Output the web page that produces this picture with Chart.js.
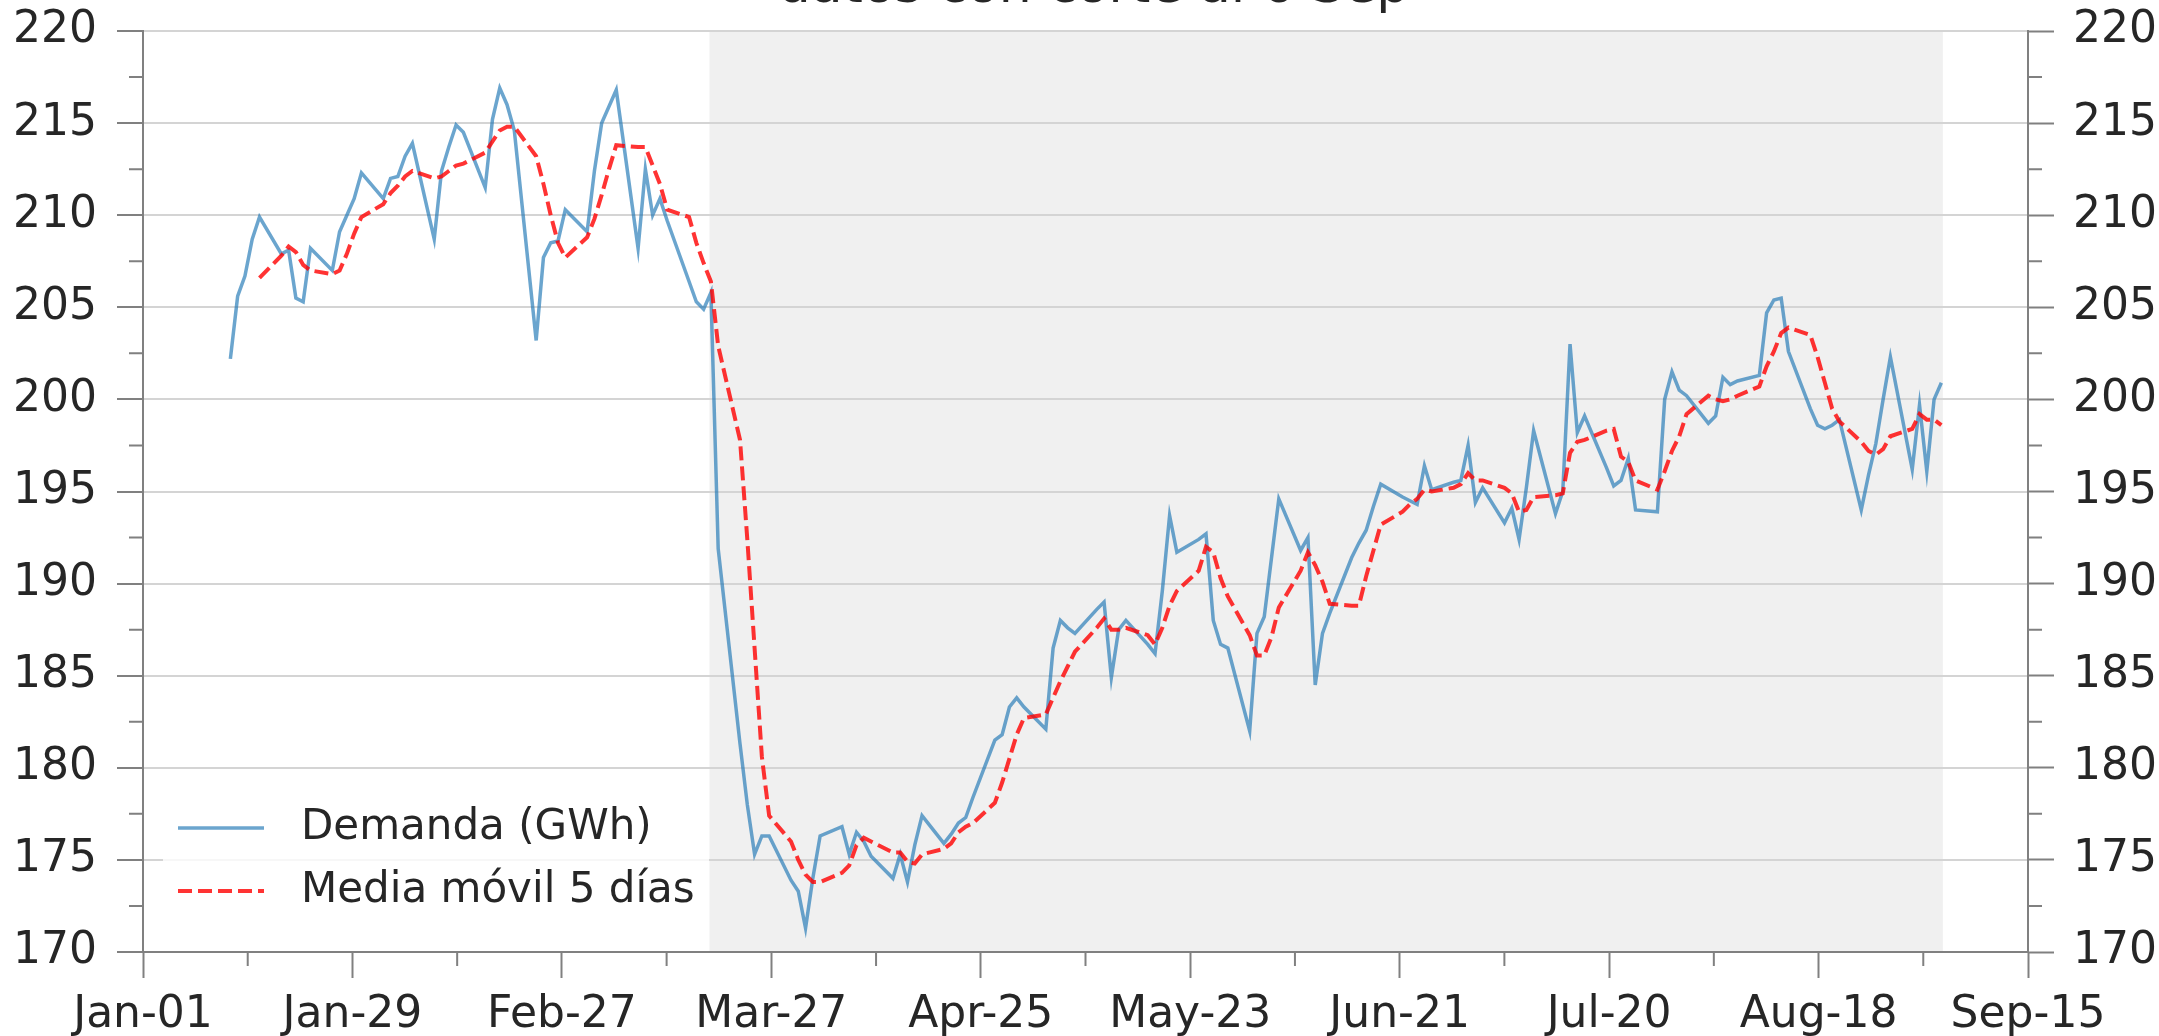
<!DOCTYPE html>
<html>
<head>
<meta charset="utf-8">
<script src="https://cdn.jsdelivr.net/npm/chart.js@4.4.1/dist/chart.umd.min.js"></script>
<style>
    html, body { margin: 0; padding: 0; background: #ffffff; }
    #marco { width: 2159px; height: 1036px; }
</style>
</head>
<body>
<div id="marco"><canvas id="graficoDemanda" width="2159" height="1036"></canvas></div>
<script>
/* ── DATOS: demanda diaria en días laborables (2020) ── */
var fechas = [
    '01-13','01-14','01-15','01-16','01-17',
    '01-20','01-21','01-22','01-23','01-24',
    '01-27','01-28','01-29','01-30','01-31',
    '02-03','02-04','02-05','02-06','02-07',
    '02-10','02-11','02-12','02-13','02-14',
    '02-17','02-18','02-19','02-20','02-21',
    '02-24','02-25','02-26','02-27','02-28',
    '03-02','03-03','03-04','03-05','03-06',
    '03-09','03-10','03-11','03-12','03-13',
    '03-16','03-17','03-18','03-19','03-20',
    '03-23','03-24','03-25','03-26','03-27',
    '03-30','03-31','04-01','04-02','04-03',
    '04-06','04-07','04-08','04-09','04-10',
    '04-13','04-14','04-15','04-16','04-17',
    '04-20','04-21','04-22','04-23','04-24',
    '04-27','04-28','04-29','04-30','05-01',
    '05-04','05-05','05-06','05-07','05-08',
    '05-11','05-12','05-13','05-14','05-15',
    '05-18','05-19','05-20','05-21','05-22',
    '05-25','05-26','05-27','05-28','05-29',
    '06-01','06-02','06-03','06-04','06-05',
    '06-08','06-09','06-10','06-11','06-12',
    '06-15','06-16','06-17','06-18','06-19',
    '06-22','06-23','06-24','06-25','06-26',
    '06-29','06-30','07-01','07-02','07-03',
    '07-06','07-07','07-08','07-09','07-10',
    '07-13','07-14','07-15','07-16','07-17',
    '07-20','07-21','07-22','07-23','07-24',
    '07-27','07-28','07-29','07-30','07-31',
    '08-03','08-04','08-05','08-06','08-07',
    '08-10','08-11','08-12','08-13','08-14',
    '08-17','08-18','08-19','08-20','08-21',
    '08-24','08-25','08-26','08-27','08-28',
    '08-31','09-01','09-02','09-03','09-04'
];

var demanda = [
    202.2, 205.6, 206.7, 208.7, 209.9,
    207.9, 208.1, 205.5, 205.3, 208.2,
    207.0, 209.1, 210.0, 210.9, 212.3,
    210.9, 212.0, 212.1, 213.2, 213.9,
    208.7, 212.4, 213.7, 214.9, 214.5,
    211.5, 215.2, 216.9, 216.0, 214.6,
    203.2, 207.7, 208.5, 208.6, 210.3,
    209.1, 212.4, 215.0, 215.9, 216.8,
    208.2, 212.5, 210.0, 210.9, 209.7,
    206.4, 205.3, 204.9, 205.8, 191.9,
    181.3, 178.0, 175.3, 176.3, 176.3,
    173.9, 173.3, 171.3, 174.0, 176.3,
    176.8, 175.3, 176.5, 176.0, 175.2,
    174.0, 175.3, 173.8, 175.8, 177.4,
    175.9, 176.4, 177.0, 177.3, 178.4,
    181.5, 181.8, 183.3, 183.8, 183.3,
    182.1, 186.5, 188.0, 187.6, 187.3,
    188.6, 189.0, 184.9, 187.5, 188.0,
    186.7, 186.2, 189.6, 193.7, 191.7,
    192.4, 192.7, 188.0, 186.7, 186.5,
    182.0, 187.3, 188.2, 191.4, 194.6,
    191.8, 192.5, 184.5, 187.3, 188.4,
    191.4, 192.2, 192.9, 194.2, 195.4,
    194.7, 194.5, 194.3, 196.4, 195.1,
    195.5, 195.6, 197.5, 194.4, 195.2,
    193.3, 194.1, 192.4, 195.2, 198.3,
    193.8, 195.0, 203.0, 198.2, 199.1,
    196.3, 195.3, 195.6, 196.8, 194.0,
    193.9, 200.0, 201.5, 200.5, 200.2,
    198.7, 199.1, 201.2, 200.8, 201.0,
    201.3, 204.7, 205.4, 205.5, 202.6,
    199.5, 198.6, 198.4, 198.6, 198.9,
    194.0, 195.9, 197.6, 200.0, 202.3,
    196.2, 199.7, 196.1, 200.0, 200.9
];

/* media móvil: empieza en la 5ª fecha (17 ene) */
var mediaMovil = [
    206.6, 207.8, 208.3, 208.0, 207.3, 207.0, 206.8, 207.0, 207.9, 209.0,
    209.9, 210.6, 211.2, 211.6, 212.1, 212.4, 212.0, 212.1, 212.4, 212.7,
    212.8, 213.4, 214.0, 214.6, 214.8, 214.8, 213.2, 211.7, 210.0, 208.5,
    207.7, 208.8, 209.8, 211.1, 212.5, 213.8, 213.7, 213.7, 212.7, 211.7,
    210.3, 209.9, 208.5, 207.4, 206.4, 202.9, 197.8, 192.4, 186.5, 180.6,
    177.4, 176.0, 175.0, 174.2, 173.8, 173.8, 174.3, 174.7, 175.8, 176.2,
    176.0, 175.4, 175.4, 174.9, 174.8, 175.3, 175.6, 175.9, 176.5, 176.8,
    177.0, 178.1, 179.2, 180.5, 181.8, 182.7, 182.9, 183.8, 184.7, 185.5,
    186.3, 187.6, 188.1, 187.5, 187.5, 187.6, 187.2, 186.7, 187.6, 188.8,
    189.6, 190.7, 192.0, 191.7, 190.3, 189.3, 187.2, 186.1, 186.1, 187.1,
    188.7, 190.7, 191.7, 191.0, 190.1, 188.9, 188.8, 188.8, 190.4, 191.8,
    193.2, 193.9, 194.3, 194.6, 195.1, 195.0, 195.2, 195.4, 196.0, 195.6,
    195.6, 195.2, 194.9, 193.9, 194.0, 194.7, 194.8, 194.9, 197.1, 197.7,
    197.8, 198.3, 198.4, 196.9, 196.6, 195.6, 195.1, 196.1, 197.2, 198.0,
    199.2, 200.2, 200.0, 199.9, 200.0, 200.2, 200.7, 201.8, 202.6, 203.6,
    203.9, 203.5, 202.3, 200.9, 199.5, 198.8, 197.7, 197.2, 197.0, 197.3,
    198.0, 198.4, 199.2, 198.9, 198.9, 198.6
];

var etiquetasX = ['Jan-01', 'Jan-29', 'Feb-27', 'Mar-27', 'Apr-25',
                  'May-23', 'Jun-21', 'Jul-20', 'Aug-18', 'Sep-15'];
var titulo = 'datos con corte al 6 Sep';

/* ── ESTILO ── */
var FUENTE = 'DejaVu Sans';
var GRIS_EJE = '#808080';
var TEXTO = '#262626';
var FIN_EJE_X = 258.9;          // días desde el 1 de enero hasta el borde derecho
var SOMBRA_DESDE = 77.8, SOMBRA_HASTA = 247.2;

function diaDelAnio(f) {
    var p = f.split('-');
    return (Date.UTC(2020, +p[0] - 1, +p[1]) - Date.UTC(2020, 0, 1)) / 864e5;
}

var posTicksX = etiquetasX.map(function (e, i) { return i * FIN_EJE_X / (etiquetasX.length - 1); });

var puntosDemanda = fechas.map(function (f, i) { return { x: diaDelAnio(f), y: demanda[i] }; });
var puntosMedia = mediaMovil.map(function (v, i) { return { x: diaDelAnio(fechas[i + 4]), y: v }; });

/* sin relleno extra por las etiquetas: el área del gráfico queda fija */
function sinRelleno(s) {
    s.paddingTop = 0; s.paddingBottom = 0; s.paddingLeft = 0; s.paddingRight = 0;
}

/* ── PLUGIN: franja gris del periodo sombreado ── */
var franjaSombreada = {
    id: 'franjaSombreada',
    beforeDraw: function (chart) {
        var c = chart.ctx, a = chart.chartArea, sx = chart.scales.x;
        c.save();
        c.fillStyle = '#f0f0f0';
        var x0 = sx.getPixelForValue(SOMBRA_DESDE), x1 = sx.getPixelForValue(SOMBRA_HASTA);
        c.fillRect(x0, a.top, x1 - x0, a.bottom - a.top);
        c.restore();
    }
};

/* ── PLUGIN: marcas menores de los ejes ── */
var marcasMenores = {
    id: 'marcasMenores',
    afterDraw: function (chart) {
        var c = chart.ctx, a = chart.chartArea, sy = chart.scales.y, sx = chart.scales.x;
        c.save();
        c.strokeStyle = GRIS_EJE;
        c.lineWidth = 2;
        c.beginPath();
        for (var v = 172.5; v < 220; v += 5) {
            var py = sy.getPixelForValue(v);
            c.moveTo(a.left - 14, py); c.lineTo(a.left, py);
            c.moveTo(a.right, py); c.lineTo(a.right + 14, py);
        }
        for (var i = 0; i < posTicksX.length - 1; i++) {
            var px = sx.getPixelForValue((posTicksX[i] + posTicksX[i + 1]) / 2);
            c.moveTo(px, a.bottom); c.lineTo(px, a.bottom + 14);
        }
        c.stroke();
        c.restore();
    }
};

/* ── PLUGIN: leyenda abajo a la izquierda y título cortado arriba ── */
var leyendaYTitulo = {
    id: 'leyendaYTitulo',
    afterDraw: function (chart) {
        var c = chart.ctx, a = chart.chartArea;
        var x0 = a.left + 20, top = a.bottom - 166;
        c.save();
        c.fillStyle = 'rgba(255,255,255,0.8)';
        c.fillRect(x0, top, 546, 146);
        c.font = '42px "' + FUENTE + '"';
        c.textBaseline = 'middle';
        c.textAlign = 'left';
        chart.data.datasets.forEach(function (ds, i) {
            var y = top + 42 + i * 63;
            c.beginPath();
            c.strokeStyle = ds.borderColor;
            c.lineWidth = ds.borderWidth;
            c.setLineDash(ds.borderDash || []);
            c.moveTo(a.left + 35, y); c.lineTo(a.left + 121, y);
            c.stroke();
            c.setLineDash([]);
            c.fillStyle = TEXTO;
            c.fillText(ds.label, a.left + 158, y);
        });
        c.font = '52px "' + FUENTE + '"';
        c.textAlign = 'center';
        c.textBaseline = 'alphabetic';
        c.fillText(titulo, (a.left + a.right) / 2 + 8, 1.5);
        c.restore();
    }
};

var fuenteTicks = { family: FUENTE, size: 44 };

new Chart(document.getElementById('graficoDemanda'), {
    type: 'line',
    data: {
        datasets: [
            {
                label: 'Demanda (GWh)',
                data: puntosDemanda,
                borderColor: 'rgba(31,119,180,0.66)',
                borderWidth: 3.5,
                pointRadius: 0,
                tension: 0,
                fill: false,
                order: 1
            },
            {
                label: 'Media móvil 5 días',
                data: puntosMedia,
                borderColor: 'rgba(255,0,0,0.8)',
                borderWidth: 4,
                borderDash: [14, 6],
                pointRadius: 0,
                tension: 0,
                fill: false,
                order: 0
            }
        ]
    },
    options: {
        responsive: false,
        animation: false,
        devicePixelRatio: 1,
        layout: { padding: { top: 31, left: 0, right: 0, bottom: 0 } },
        plugins: { legend: { display: false }, title: { display: false }, tooltip: { enabled: false } },
        scales: {
            x: {
                type: 'linear',
                min: 0, max: FIN_EJE_X,
                afterBuildTicks: function (s) { s.ticks = posTicksX.map(function (v) { return { value: v }; }); },
                afterFit: function (s) { s.height = 84; sinRelleno(s); },
                ticks: {
                    autoSkip: false, maxRotation: 0, padding: 11,
                    color: TEXTO, font: fuenteTicks,
                    callback: function (v, i) { return etiquetasX[i]; }
                },
                grid: { drawOnChartArea: false, tickLength: 26, tickColor: GRIS_EJE, tickWidth: 2 },
                border: { color: GRIS_EJE, width: 2 }
            },
            y: {
                position: 'left',
                min: 170, max: 220,
                afterFit: function (s) { s.width = 143; sinRelleno(s); },
                ticks: { stepSize: 5, padding: 20, color: TEXTO, font: fuenteTicks },
                grid: { color: '#d4d4d4', lineWidth: 2, tickLength: 26, tickColor: GRIS_EJE, tickWidth: 2 },
                border: { color: GRIS_EJE, width: 2 }
            },
            y2: {
                position: 'right',
                min: 170, max: 220,
                afterFit: function (s) { s.width = 131; sinRelleno(s); },
                ticks: { stepSize: 5, padding: 19, color: TEXTO, font: fuenteTicks },
                grid: { drawOnChartArea: false, tickLength: 26, tickColor: GRIS_EJE, tickWidth: 2 },
                border: { color: GRIS_EJE, width: 2 }
            }
        }
    },
    plugins: [franjaSombreada, marcasMenores, leyendaYTitulo]
});
</script>
</body>
</html>
